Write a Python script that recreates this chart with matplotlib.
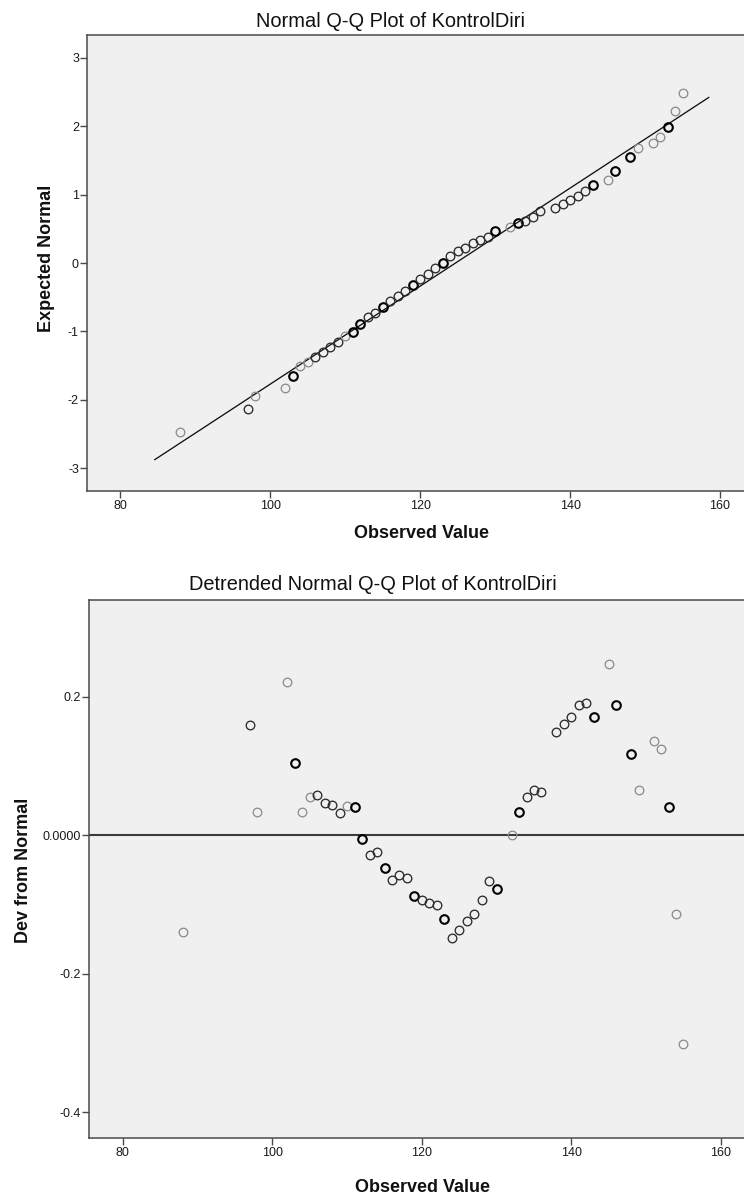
import matplotlib
matplotlib.use("Agg")
import matplotlib.pyplot as plt

plt.rcParams["font.family"] = ["Liberation Sans", "DejaVu Sans"]

observed = [88, 97, 98, 102, 103, 104, 105, 106, 107, 108, 109, 110, 111, 112,
            113, 114, 115, 116, 117, 118, 119, 120, 121, 122, 123, 124, 125, 126,
            127, 128, 129, 130, 132, 133, 134, 135, 136, 138, 139, 140, 141, 142,
            143, 145, 146, 148, 149, 151, 152, 153, 154, 155]

# expected normal value for each observed value (top chart)
expected = [-2.475, -2.129, -1.939, -1.832, -1.652, -1.501, -1.452, -1.379, -1.306,
            -1.233, -1.150, -1.067, -1.014, -0.897, -0.794, -0.736, -0.639, -0.551,
            -0.488, -0.410, -0.322, -0.234, -0.161, -0.078, 0.004, 0.102, 0.175,
            0.224, 0.287, 0.331, 0.384, 0.467, 0.530, 0.579, 0.613, 0.672, 0.755,
            0.808, 0.867, 0.920, 0.983, 1.052, 1.139, 1.208, 1.339, 1.553, 1.680,
            1.748, 1.836, 1.992, 2.216, 2.479]

# deviation from normal (detrended chart)
deviation = [-0.139, 0.159, 0.034, 0.222, 0.105, 0.033, 0.055, 0.058, 0.047, 0.044,
             0.032, 0.042, 0.041, -0.005, -0.028, -0.024, -0.047, -0.064, -0.058,
             -0.061, -0.087, -0.093, -0.098, -0.101, -0.121, -0.149, -0.137, -0.124,
             -0.113, -0.093, -0.066, -0.077, 0.001, 0.034, 0.056, 0.066, 0.062,
             0.149, 0.161, 0.171, 0.189, 0.191, 0.171, 0.248, 0.188, 0.117, 0.066,
             0.137, 0.125, 0.041, -0.114, -0.301]

# how dark each marker looks (1 light, 2 normal, 3 heavy / overplotted)
weight = [1, 2, 1, 1, 3, 1, 1, 2, 2, 2, 2, 1, 3, 3, 2, 2, 3, 2, 2, 2, 3, 2, 2, 2, 3,
          2, 2, 2, 2, 2, 2, 3, 1, 3, 2, 2, 2, 2, 2, 2, 2, 2, 3, 1, 3, 3, 1, 1, 1, 3,
          1, 1]

# normal reference line
fit_mean = 124.72
fit_sd = 13.97
line_x = [84.6, 158.5]

W, H = 744, 1203
fig = plt.figure(figsize=(W / 100, H / 100), dpi=100, facecolor="white")

edge_cols = {1: "#8a8a8a", 2: "#2b2b2b", 3: "#000000"}
edge_lws = {1: 0.9, 2: 0.95, 3: 1.5}


def px_axes(left, top, right, bottom):
  return fig.add_axes([left / W, 1 - bottom / H, (right - left) / W, (bottom - top) / H])


def style_axes(ax):
  ax.set_facecolor("#f0f0f0")
  for s in ["left", "bottom", "top"]:
    ax.spines[s].set_color("#4a4a4a")
    ax.spines[s].set_linewidth(1.1)
  ax.spines["right"].set_visible(False)
  ax.tick_params(direction="out", length=5, width=1.0, color="#4a4a4a",
                 labelsize=9, labelcolor="#1a1a1a")
  ax.tick_params(axis="x", pad=1.5)
  ax.tick_params(axis="y", pad=1)
  ax.set_xticks([80, 100, 120, 140, 160])


def draw_points(ax, xs, ys):
  for x, y, w in zip(xs, ys, weight):
    ax.plot(x, y, "o", ms=6.2, mfc="none", mec=edge_cols[w], mew=edge_lws[w], zorder=3)


# top: normal Q-Q
ax1 = px_axes(87.3, 35, 744, 491)
style_axes(ax1)
ax1.set_xlim(75.6, 163.2)
ax1.set_ylim(-3.33, 3.33)
ax1.set_yticks([-3, -2, -1, 0, 1, 2, 3])
ax1.set_yticklabels(["-3", "-2", "-1", "0", "1", "2", "3"])
line_y = [(v - fit_mean) / fit_sd for v in line_x]
ax1.plot(line_x, line_y, color="#111111", lw=0.95, zorder=2)
draw_points(ax1, observed, expected)

# bottom: detrended
ax2 = px_axes(89.3, 600, 744, 1138.3)
style_axes(ax2)
ax2.set_xlim(75.5, 163.1)
ax2.set_ylim(-0.4377, 0.340)
ax2.set_yticks([-0.4, -0.2, 0.0, 0.2])
ax2.set_yticklabels(["-0.4", "-0.2", "0.0000", "0.2"])
ax2.axhline(0, color="#3a3a3a", lw=1.5, zorder=2)
draw_points(ax2, observed, deviation)

# titles and axis labels
def ftext(x, y, s, **kw):
  fig.text(x / W, 1 - y / H, s, ha="center", va="center", **kw)

ftext(391, 21.7, "Normal Q-Q Plot of KontrolDiri", fontsize=14.4, color="#111111")
ftext(373, 585, "Detrended Normal Q-Q Plot of KontrolDiri", fontsize=14.4, color="#111111")
ftext(421, 534, "Observed Value", fontsize=13, fontweight="bold", color="#111111")
ftext(422, 1188, "Observed Value", fontsize=13, fontweight="bold", color="#111111")
ftext(47, 258, "Expected Normal", fontsize=13, fontweight="bold", rotation=90, color="#111111")
ftext(24, 870, "Dev from Normal", fontsize=13, fontweight="bold", rotation=90, color="#111111")

fig.savefig("out.png", dpi=100, facecolor="white")
